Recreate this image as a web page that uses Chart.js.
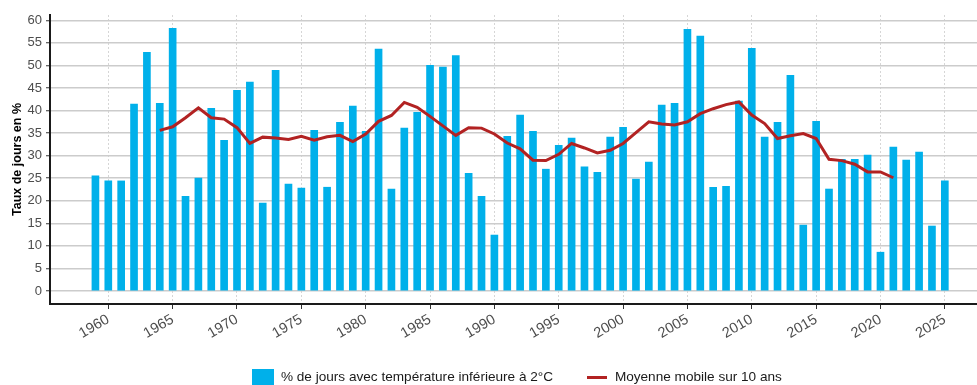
<!DOCTYPE html>
<html><head><meta charset="utf-8">
<script src="https://cdn.jsdelivr.net/npm/chart.js@4/dist/chart.umd.min.js"></script>
<style>html,body{margin:0;padding:0;background:#fff}</style>
</head><body>
<canvas id="c" width="977" height="385"></canvas>
<script>
// ---- Data ----
const years = [1959,1960,1961,1962,1963,1964,1965,1966,1967,1968,1969,1970,1971,1972,1973,1974,1975,1976,1977,1978,1979,1980,1981,1982,1983,1984,1985,1986,1987,1988,1989,1990,1991,1992,1993,1994,1995,1996,1997,1998,1999,2000,2001,2002,2003,2004,2005,2006,2007,2008,2009,2010,2011,2012,2013,2014,2015,2016,2017,2018,2019,2020,2021,2022,2023,2024,2025];
const coldDaysPct = [25.5,24.4,24.4,41.4,52.9,41.6,58.2,21.0,25.0,40.5,33.4,44.5,46.3,19.5,48.9,23.7,22.8,35.6,23.0,37.4,41.0,35.4,53.6,22.6,36.1,39.6,50.0,49.6,52.2,26.1,21.0,12.4,34.3,39.0,35.4,27.0,32.3,33.9,27.5,26.3,34.1,36.3,24.8,28.6,41.2,41.6,58.0,56.5,23.0,23.2,42.1,53.8,34.1,37.4,47.8,14.6,37.6,22.6,29.2,29.2,30.1,8.6,31.9,29.0,30.8,14.4,24.4];
const maYears = [1964,1965,1966,1967,1968,1969,1970,1971,1972,1973,1974,1975,1976,1977,1978,1979,1980,1981,1982,1983,1984,1985,1986,1987,1988,1989,1990,1991,1992,1993,1994,1995,1996,1997,1998,1999,2000,2001,2002,2003,2004,2005,2006,2007,2008,2009,2010,2011,2012,2013,2014,2015,2016,2017,2018,2019,2020,2021];
const movingAverage10y = [35.6,36.4,38.4,40.6,38.4,38.1,36.2,32.7,34.1,33.9,33.6,34.3,33.4,34.2,34.5,33.1,34.8,37.6,38.9,41.8,40.7,38.7,36.6,34.5,36.2,36.1,34.8,32.8,31.5,29.0,28.9,30.3,32.7,31.7,30.6,31.2,32.7,35.1,37.5,37.0,36.8,37.5,39.3,40.4,41.3,41.9,39.0,37.1,33.8,34.4,34.9,33.8,29.2,28.9,28.1,26.4,26.4,25.1];
const xTickYears = [1960,1965,1970,1975,1980,1985,1990,1995,2000,2005,2010,2015,2020,2025];
const yTickValues = [0,5,10,15,20,25,30,35,40,45,50,55,60];
const barLabel = '% de jours avec température inférieure à 2°C';
const lineLabel = 'Moyenne mobile sur 10 ans';
const yTitle = 'Taux de jours en %';

// ---- Styles ----
const BAR_COLOR = '#00b0ea';
const LINE_COLOR = '#b22222';
Chart.defaults.font.family = "'Liberation Sans', Arial, sans-serif";

function swatch(w, h, color) {
  const c = document.createElement('canvas');
  c.width = w; c.height = h;
  const g = c.getContext('2d');
  g.fillStyle = color; g.fillRect(0, 0, w, h);
  return c;
}
const barSwatch = swatch(22, 17, BAR_COLOR);
const lineSwatch = swatch(20, 3, LINE_COLOR);

const LEGEND_FONT = 13.6;
const LEGEND_RESERVED = 8;
const legendPlacer = {
  id: 'legendPlacer',
  afterLayout(chart) {
    const lg = chart.legend;
    if (!lg) return;
    const P = lg.options.labels.padding;
    lg.left = 57; lg.right = 977;
    lg.top = 377 - P - LEGEND_FONT / 2;
    lg.bottom = 385 + 40;
    lg.height = lg.bottom - lg.top;
  }
};

new Chart(document.getElementById('c'), {
  type: 'bar',
  data: {
    datasets: [
      {
        type: 'line',
        label: lineLabel,
        data: maYears.map((y, i) => ({x: y, y: movingAverage10y[i]})),
        borderColor: LINE_COLOR,
        backgroundColor: LINE_COLOR,
        borderWidth: 3,
        pointRadius: 0,
        fill: false,
        tension: 0,
        order: 0
      },
      {
        type: 'bar',
        label: barLabel,
        data: years.map((y, i) => ({x: y, y: coldDaysPct[i]})),
        backgroundColor: BAR_COLOR,
        borderWidth: 0,
        barThickness: 7,
        order: 1
      }
    ]
  },
  options: {
    responsive: false,
    animation: false,
    devicePixelRatio: 1,
    layout: {padding: {top: 15, left: 0, right: 0, bottom: 0}},
    plugins: {
      tooltip: {enabled: false},
      legend: {
        position: 'bottom',
        maxHeight: LEGEND_RESERVED,
        labels: {
          usePointStyle: true,
          pointStyleWidth: 22,
          padding: 33,
          color: '#1a1a1a',
          font: {size: LEGEND_FONT},
          generateLabels(chart) {
            return [
              {text: barLabel, pointStyle: barSwatch, fillStyle: BAR_COLOR, strokeStyle: BAR_COLOR, lineWidth: 0, datasetIndex: 1, hidden: false, fontColor: '#1a1a1a'},
              {text: lineLabel, pointStyle: lineSwatch, fillStyle: LINE_COLOR, strokeStyle: LINE_COLOR, lineWidth: 0, datasetIndex: 0, hidden: false, fontColor: '#1a1a1a'}
            ];
          }
        }
      }
    },
    scales: {
      x: {
        type: 'linear',
        min: 1955.47,
        max: 2027.5,
        offset: false,
        afterBuildTicks(scale) { scale.ticks = xTickYears.map(v => ({value: v})); },
        afterFit(scale) {
          scale.height = 385 - 304 - LEGEND_RESERVED;
        },
        ticks: {
          callback: v => String(v),
          minRotation: 30,
          maxRotation: 30,
          autoSkip: false,
          color: '#4d4d4d',
          font: {size: 14.5},
          padding: 2
        },
        grid: {
          offset: false,
          color: '#d6d6d6',
          lineWidth: 1,
          drawTicks: true,
          tickLength: 5,
          tickColor: '#333333',
          tickWidth: 1,
          tickBorderDash: []
        },
        border: {display: true, color: '#1a1a1a', width: 2, dash: [2, 2]}
      },
      y: {
        type: 'linear',
        min: -2.88,
        max: 61.17,
        afterBuildTicks(scale) { scale.ticks = yTickValues.map(v => ({value: v})); },
        afterFit(scale) { scale.width = 50; },
        ticks: {color: '#4d4d4d', font: {size: 13}, padding: 4},
        grid: {
          color: '#cccccc',
          lineWidth: 1.5,
          drawTicks: true,
          tickLength: 4,
          tickColor: '#333333',
          tickWidth: 1
        },
        border: {display: true, color: '#1a1a1a', width: 2},
        title: {
          display: true,
          text: yTitle,
          color: '#000000',
          font: {size: 12.5, weight: 'bold'},
          padding: {top: 10, bottom: 0}
        }
      }
    }
  },
  plugins: [legendPlacer]
});
</script>
</body></html>
